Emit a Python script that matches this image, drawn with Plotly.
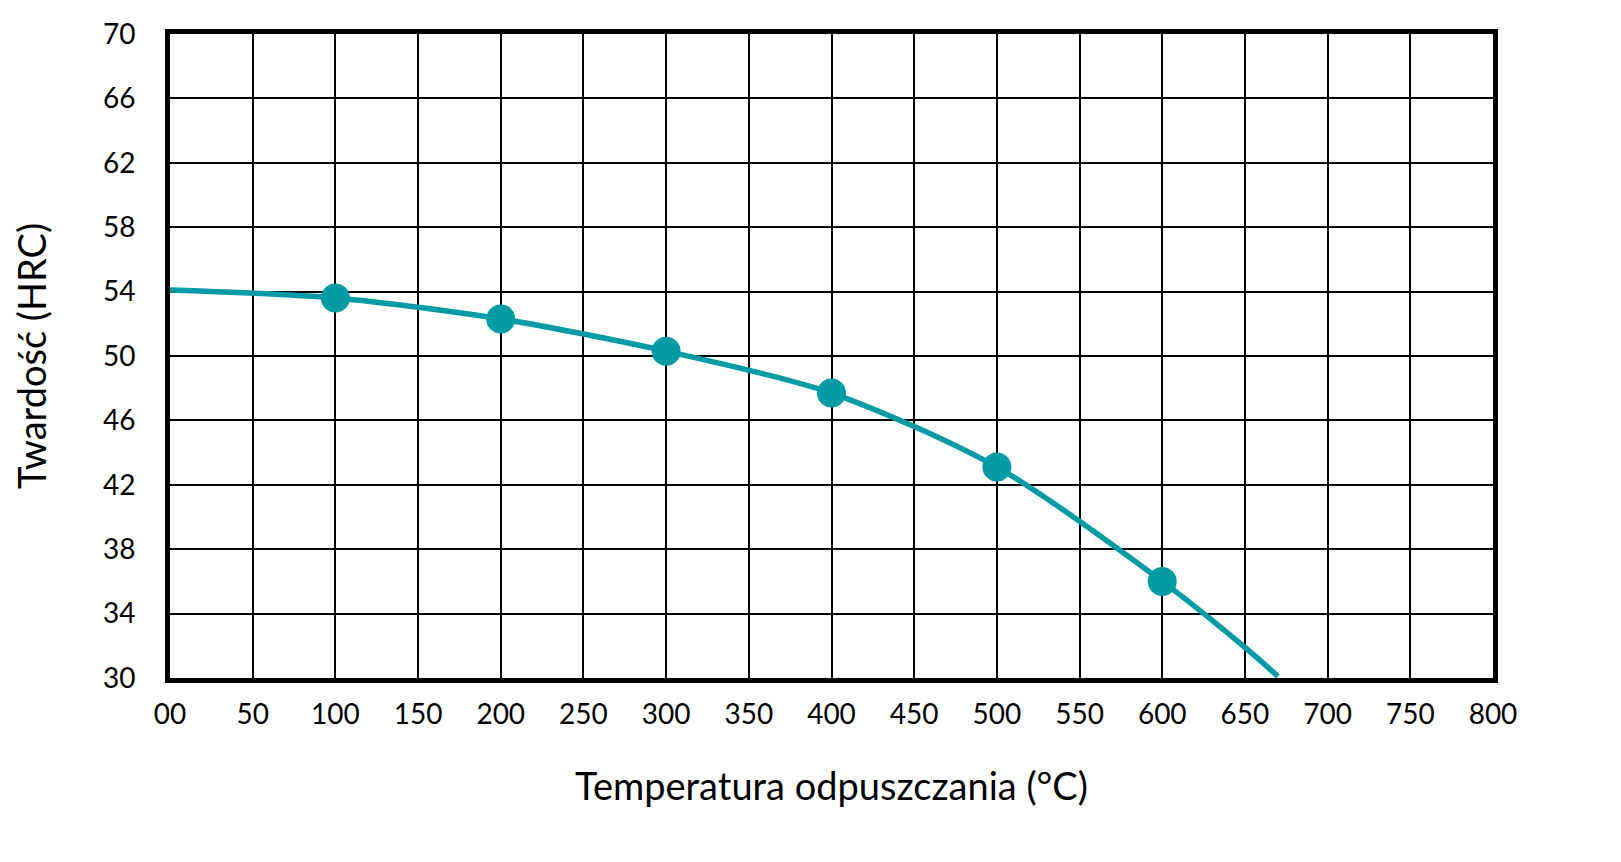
import plotly.graph_objects as go

# odczyt z wykresu
temp_curve = [0, 100, 200, 300, 400, 500, 600, 650, 670]
hrc_curve = [54.1, 53.6, 52.3, 50.3, 47.7, 43.1, 36.0, 31.9, 30.1]

temp_pts = [100, 200, 300, 400, 500, 600]
hrc_pts = [53.6, 52.3, 50.3, 47.7, 43.1, 36.0]

x_ticks = list(range(0, 801, 50))
x_labels = ["00"] + [str(v) for v in x_ticks[1:]]
y_ticks = list(range(30, 71, 4))

teal = "rgb(0,155,164)"
font = "Lato, 'DejaVu Sans', sans-serif"

fig = go.Figure()
fig.add_trace(go.Scatter(
    x=temp_curve, y=hrc_curve, mode="lines",
    line=dict(color=teal, width=5.5, shape="spline", smoothing=0.8),
    hoverinfo="skip",
))
fig.add_trace(go.Scatter(
    x=temp_pts, y=hrc_pts, mode="markers",
    marker=dict(color=teal, size=29),
))

fig.update_xaxes(
    range=[0, 800], tickvals=x_ticks, ticktext=x_labels,
    showgrid=True, gridcolor="black", gridwidth=2,
    showline=True, linecolor="black", linewidth=5, mirror=True,
    ticks="outside", ticklen=7, tickcolor="rgba(0,0,0,0)",
    tickfont=dict(size=28, color="black", family=font),
    title=dict(text="Temperatura odpuszczania (°C)", standoff=46,
               font=dict(size=38, color="black", family=font)),
    zeroline=False,
)
fig.update_yaxes(
    range=[30, 70], tickvals=y_ticks,
    showgrid=True, gridcolor="black", gridwidth=2,
    showline=True, linecolor="black", linewidth=5, mirror=True,
    ticks="outside", ticklen=24, tickcolor="rgba(0,0,0,0)",
    tickfont=dict(size=28, color="black", family=font),
    title=dict(text="Twardość (HRC)", standoff=56,
               font=dict(size=38, color="black", family=font)),
    zeroline=False,
)

fig.update_layout(
    width=1621, height=862,
    margin=dict(l=162, r=136, t=26, b=192, autoexpand=False),
    plot_bgcolor="white", paper_bgcolor="white",
    showlegend=False,
)

fig.write_html("out.html")
